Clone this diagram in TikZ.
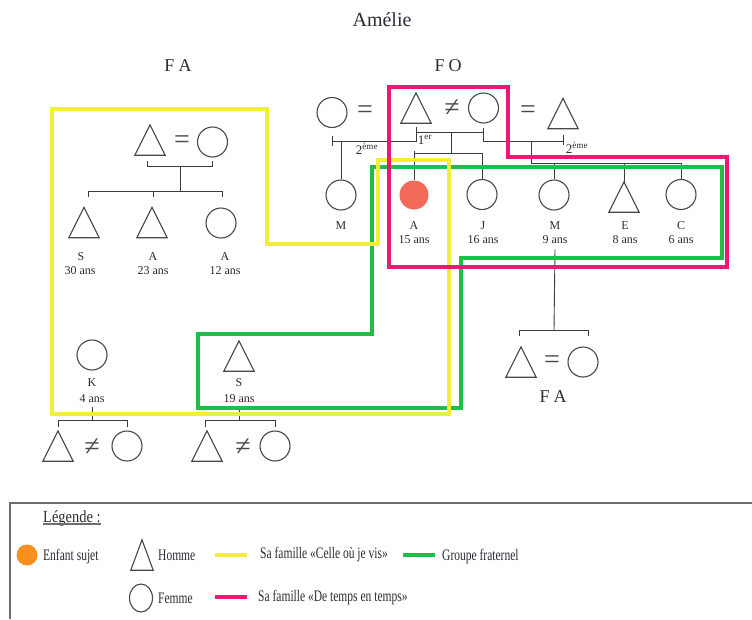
\documentclass[tikz,border=0pt]{standalone}
\usepackage{fontspec}
\setmainfont{Liberation Serif}
\newfontfamily\legfont[FakeStretch=0.72]{Liberation Serif}
\newfontfamily\legtfont[FakeStretch=0.85]{Liberation Serif}
\usetikzlibrary{shapes.geometric}
\definecolor{cyel}{HTML}{F2EE3A}
\definecolor{cgrn}{HTML}{1EBE4A}
\definecolor{cpnk}{HTML}{EF1677}
\definecolor{csal}{HTML}{F26B58}
\definecolor{corg}{HTML}{F7901E}
\definecolor{cshp}{HTML}{474747}
\definecolor{clin}{HTML}{3A3A48}
\definecolor{ctxt}{HTML}{2B2B33}
\definecolor{cbox}{HTML}{6E6E6E}
\begin{document}
\begin{tikzpicture}[x=1pt,y=-1pt,
  fem/.style={circle, draw=cshp, line width=1.1pt, minimum size=30pt, inner sep=0pt},
  hom/.style={inner sep=0pt, minimum width=30pt, minimum height=30pt,
    append after command={\pgfextra{\draw[cshp, line width=1.1pt, line join=miter]
      (\tikzlastnode.south west) -- (\tikzlastnode.south east) -- (\tikzlastnode.north) -- cycle;}}},
  ln/.style={draw=clin, line width=0.9pt},
  nm/.style={anchor=base, inner sep=0pt, font=\fontsize{12}{12}\selectfont, text=ctxt},
  rel/.style={inner sep=0pt, font=\fontsize{28}{28}\selectfont, text=cshp},
  gen/.style={anchor=base, inner sep=0pt, font=\fontsize{13}{13}\selectfont, text=ctxt},
  ttl/.style={anchor=base, inner sep=0pt, font=\fontsize{18}{18}\selectfont, text=ctxt},
  grp/.style={line width=4pt, line join=miter},
  legbar/.style={line width=4.5pt},
  leg/.style={anchor=base west, inner sep=0pt, font=\legfont\fontsize{16}{16}\selectfont, text=ctxt}]
\useasboundingbox (0,0) rectangle (752,619);

% ---------- titles
\node[anchor=base, inner sep=0pt, font=\fontsize{20}{20}\selectfont, text=ctxt] (title) at (382,26) {Amélie};
\node[ttl] (tFA1) at (178,71) {F\hspace{4pt}A};
\node[ttl] (tFO) at (448,71) {F\hspace{4pt}O};
\node[ttl] (tFA2) at (553,402) {F\hspace{4pt}A};

% ---------- top couples
\node[fem] (gmL) at (332,112.5) {};
\node[rel] (eq1) at (365,112) {=};
\node[hom] (gpF) at (416,108) {};
\node[rel] (ne1) at (452,108) {≠};
\node[fem] (gmM) at (483.5,108) {};
\node[rel] (eq2) at (528,112) {=};
\node[hom] (gpR) at (563,113.5) {};

% ---------- children row
\node[fem] (M1) at (341,195) {};
\node[circle, fill=csal, minimum size=29pt, inner sep=0pt] (A) at (414,195) {};
\node[fem] (J) at (482,194.5) {};
\node[fem] (M2) at (554,195) {};
\node[hom] (E) at (624,197) {};
\node[fem] (C) at (681,194.5) {};

\node[nm] (nM1) at (341,229) {M};
\node[nm] (nA) at (414,229) {A};
\node[nm] (aA) at (414,243) {15 ans};
\node[nm] (nJ) at (483,229) {J};
\node[nm] (aJ) at (483,243) {16 ans};
\node[nm] (nM2) at (555,229) {M};
\node[nm] (aM2) at (555,243) {9 ans};
\node[nm] (nE) at (625,229) {E};
\node[nm] (aE) at (625,243) {8 ans};
\node[nm] (nC) at (681,229) {C};
\node[nm] (aC) at (681,243) {6 ans};

\node[gen] (g2a) at (367,154) {2\textsuperscript{ème}};
\node[gen] (g1) at (425,144) {1\textsuperscript{er}};
\node[gen] (g2b) at (577,153) {2\textsuperscript{ème}};

% ---------- top connectors
\coordinate (c1L) at (416,132);
\coordinate (c1R) at (483.5,132);
\coordinate (c1M) at (451,132);
\coordinate (g2L) at (332,141);
\coordinate (g2R) at (563,141);
\coordinate (sibC) at (451,153);
\coordinate (sibR) at (531,163);

\draw[ln] ([yshift=-4pt]gpF.south) -- (gpF.south |- g2L) -- (g2L);
\draw[ln] ([yshift=5pt]g2L) -- ([yshift=-5pt]g2L);
\draw[ln] (M1.north) -- (M1.north |- g2L);
\draw[ln] (c1L) -- (c1R);
\draw[ln] ([yshift=-4pt]gmM.south) -- (gmM.south |- g2R) -- (g2R);
\draw[ln] ([yshift=6pt]g2R) -- ([yshift=-4pt]g2R);
\draw[ln] (c1M) -- (sibC);
\draw[ln] ([yshift=2pt]A.north |- sibC) -- (A.north |- sibC) -- (J.north |- sibC) -- (J.north);
\draw[ln] (A.north |- sibC) -- (A.north);
\draw[ln] (sibR |- g2R) -- (sibR) -- (sibR -| C.north) -- (C.north);
\draw[ln] (M2.north) -- (M2.north |- sibR);
\draw[ln] (E.north) -- (E.north |- sibR);

% ---------- right F A
\node[hom] (faT) at (521,362) {};
\node[rel] (eq3) at (552,362) {=};
\node[fem] (faC) at (583,362) {};
\coordinate (fbM) at (554,330);
\coordinate (fbL) at (519,330);
\coordinate (fbR) at (588,330);
\draw[ln] ([yshift=-6pt]aM2.south) -- (fbM);
\draw[ln] ([yshift=-6pt]fbL) -- (fbL) -- (fbR) -- ([yshift=-6pt]fbR);

% ---------- left F A
\node[hom] (lfT) at (150,140) {};
\node[rel] (eq4) at (182,142) {=};
\node[fem] (lfC) at (212.5,142) {};
\node[hom] (sS) at (84,222.5) {};
\node[hom] (sA) at (152,222.5) {};
\node[fem] (sA2) at (221,223) {};
\node[nm] (nS) at (81,260) {S};
\node[nm] (aS) at (80,274) {30 ans};
\node[nm] (nA1) at (153,260) {A};
\node[nm] (aA1) at (153,274) {23 ans};
\node[nm] (nA2) at (225,260) {A};
\node[nm] (aA2) at (225,274) {12 ans};
\coordinate (lfL) at (147,166);
\coordinate (lfR) at (212,166);
\coordinate (lfM) at (180,166);
\coordinate (lsM) at (180,191);
\coordinate (lsL) at (88,191);
\coordinate (lsR) at (222,191);
\coordinate (lsC) at (153,191);
\draw[ln] ([yshift=5pt]lfL) -- (lfL) -- (lfR) -- ([yshift=5pt]lfR);
\draw[ln] (lfM) -- (lsM);
\draw[ln] ([yshift=-6pt]lsL) -- (lsL) -- (lsR) -- ([yshift=-6pt]lsR);
\draw[ln] (lsC) -- ([yshift=-6pt]lsC);

% ---------- K and S
\node[fem] (K) at (92,355) {};
\node[nm] (nK) at (92,386) {K};
\node[nm] (aK) at (92,402) {4 ans};
\node[hom] (S) at (239,356) {};
\node[nm] (nS2) at (239,386) {S};
\node[nm] (aS2) at (239,402) {19 ans};

\node[hom] (kT) at (58,446) {};
\node[rel] (ne2) at (92,447) {≠};
\node[fem] (kC) at (127,446) {};
\node[hom] (sT) at (207,446) {};
\node[rel] (ne3) at (243,447) {≠};
\node[fem] (sC) at (275,446) {};

\coordinate (kbM) at (92,420);
\coordinate (kbL) at (58,420);
\coordinate (kbR) at (127,420);
\coordinate (sbM) at (239,420);
\coordinate (sbL) at (205,420);
\coordinate (sbR) at (275,420);
\draw[ln] ([yshift=-5pt]aK.south) -- (kbM);
\draw[ln] ([yshift=-7pt]kbL) -- (kbL) -- (kbR) -- ([yshift=-7pt]kbR);
\draw[ln] ([yshift=-5pt]aS2.south) -- (sbM);
\draw[ln] ([yshift=-7pt]sbL) -- (sbL) -- (sbR) -- ([yshift=-7pt]sbR);

% ---------- group outlines
\draw[grp, cgrn] (198,334) -- (372,334) -- (372,167) -- (722,167) -- (722,258) -- (461,258) -- (461,408) -- (198,408) -- cycle;
\draw[grp, cyel] (52,109) -- (267,109) -- (267,244) -- (378,244) -- (378,160) -- (449,160) -- (449,414) -- (52,414) -- cycle;
\draw[grp, cpnk] (389,87) -- (508,87) -- (508,157) -- (727,157) -- (727,267) -- (389,267) -- cycle;

% ---------- legend
\draw[draw=cbox, line width=1.4pt] (10,619) -- (10,503) -- (752,503);
\node[anchor=base west, inner sep=0pt, font=\legtfont\fontsize{17}{17}\selectfont, text=ctxt] (legt) at (43,522) {Légende :};
\draw[cbox, line width=1.3pt] ([yshift=-2pt]legt.base west) -- ([yshift=-2pt]legt.base east);

\node[circle, fill=corg, minimum size=21pt, inner sep=0pt] (lgE) at (27,555) {};
\node[leg] (tE) at (43,560) {Enfant sujet};
\node[hom, minimum width=22pt, minimum height=30pt] (lgH) at (142,555) {};
\node[leg] (tH) at (158,560) {Homme};
\coordinate (ly1) at (215,555); \coordinate (ly2) at (247,555);
\draw[legbar, cyel] (ly1) -- (ly2);
\node[leg] (tY) at (260,558) {Sa famille «Celle où je vis»};
\coordinate (lg1) at (403,555); \coordinate (lg2) at (435,555);
\draw[legbar, cgrn] (lg1) -- (lg2);
\node[leg] (tG) at (442,560) {Groupe fraternel};
\node[ellipse, draw=cshp, line width=1.1pt, minimum width=23pt, minimum height=28pt, inner sep=0pt] (lgF) at (141,598) {};
\node[leg] (tF) at (158,603) {Femme};
\coordinate (lp1) at (215,597); \coordinate (lp2) at (247,597);
\draw[legbar, cpnk] (lp1) -- (lp2);
\node[leg] (tP) at (258,601) {Sa famille «De temps en temps»};
\end{tikzpicture}
\end{document}
